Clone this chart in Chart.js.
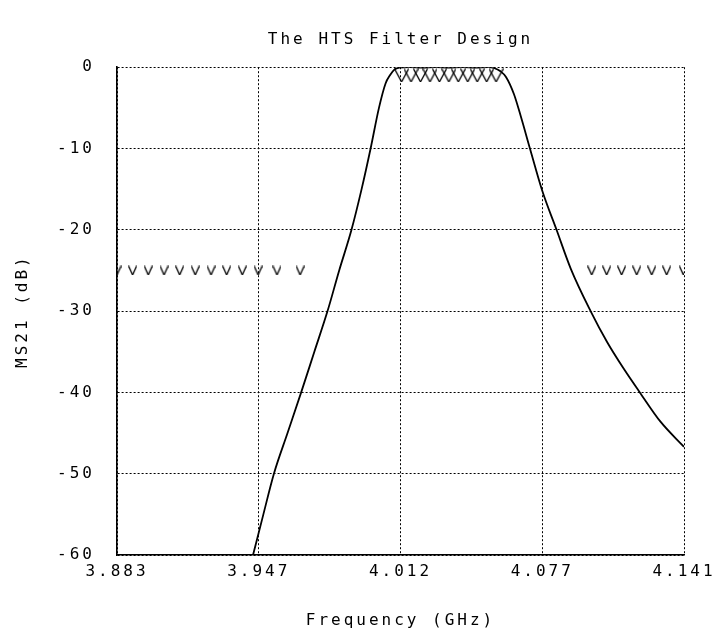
<!DOCTYPE html>
<html>
<head>
<meta charset="utf-8">
<title>The HTS Filter Design</title>
<script src="https://cdn.jsdelivr.net/npm/chart.js@4.4.1/dist/chart.umd.min.js"></script>
<style>
  html, body { margin: 0; padding: 0; background: #fff; }
  #wrap { width: 725px; height: 634px; }
</style>
</head>
<body>
<div id="wrap"><canvas id="filterChart" width="725" height="634"></canvas></div>
<script>
// filter response
const curveFreq = [3.9449, 3.9496, 3.9544, 3.9606, 3.9668, 3.9728, 3.9788, 3.9841, 3.9897, 3.9943,
  3.9984, 4.0022, 4.0052, 4.0072, 4.0092, 4.0115, 4.016, 4.022, 4.028, 4.034, 4.040, 4.046, 4.052,
  4.0545, 4.0575, 4.0600, 4.0636, 4.0668, 4.0709, 4.0765, 4.0830, 4.0895, 4.0985, 4.1060, 4.1136,
  4.1209, 4.1303, 4.141];
const curveDb = [-60, -55, -50, -45, -40, -35, -30, -25, -20, -15,
  -10, -5, -2, -1, -0.3, -0.05, 0, -0.05, 0, -0.05, 0, -0.05, 0,
  -0.1, -0.5, -1.2, -3.3, -6.1, -10, -15.2, -20, -24.8, -30, -33.8, -37.1,
  -40, -43.6, -46.7];

// spec markers (the "V" rows)
const stopLeftFreq = [3.883, 3.8901, 3.8972, 3.9044, 3.9115, 3.9186, 3.9258, 3.9329, 3.9400, 3.9472, 3.9558, 3.9663];
const stopRightFreq = [4.0990, 4.1058, 4.1126, 4.1195, 4.1263, 4.1331, 4.1407];
const stopDb = -25;
const passFreq = [4.0125, 4.0168, 4.0211, 4.0254, 4.0297, 4.0340, 4.0383, 4.0426, 4.0469, 4.0512, 4.0555];
const passDb = -1;

// axes
const xTickValues = [3.883, 3.9475, 4.012, 4.0765, 4.141];
const xTickLabels = ['3.883', '3.947', '4.012', '4.077', '4.141'];
const yMin = -60, yMax = 0, yStep = 10;

function pts(xs, y) {
  return xs.map((x, i) => ({ x: x, y: Array.isArray(y) ? y[i] : y }));
}

// little V glyph used as point style
function makeV(w, h, lw) {
  const c = document.createElement('canvas');
  c.width = w; c.height = h;
  const g = c.getContext('2d');
  g.strokeStyle = '#000';
  g.lineWidth = lw;
  g.beginPath();
  g.moveTo(0.5, 0.5);
  g.lineTo(w / 2, h - 0.5);
  g.lineTo(w - 0.5, 0.5);
  g.stroke();
  return c;
}
const vSmall = makeV(9, 10, 1.3);
const vTop = makeV(15, 14, 1.3);

// plotter-style wide lettering
const letterSpacing = {
  id: 'letterSpacing',
  beforeUpdate(chart) { chart.ctx.letterSpacing = '3px'; },
  beforeDraw(chart) { chart.ctx.letterSpacing = '3px'; }
};

Chart.defaults.font.family = "'DejaVu Sans Mono', 'Liberation Mono', monospace";
Chart.defaults.font.size = 16;
Chart.defaults.color = '#000';

const ctx = document.getElementById('filterChart').getContext('2d');
new Chart(ctx, {
  type: 'scatter',
  data: {
    datasets: [
      {
        data: pts(curveFreq, curveDb),
        showLine: true,
        borderColor: '#000',
        borderWidth: 1.8,
        pointRadius: 0,
        cubicInterpolationMode: 'monotone'
      },
      { data: pts(stopLeftFreq, stopDb), pointStyle: vSmall, pointRadius: 5 },
      { data: pts(stopRightFreq, stopDb), pointStyle: vSmall, pointRadius: 5 },
      { data: pts(passFreq, passDb), pointStyle: vTop, pointRadius: 7 }
    ]
  },
  plugins: [letterSpacing],
  options: {
    responsive: false,
    animation: false,
    layout: { padding: { top: 0, right: 41, bottom: 0, left: 0 } },
    plugins: {
      legend: { display: false },
      tooltip: { enabled: false },
      title: {
        display: true,
        fullSize: false,
        text: 'The HTS Filter Design',
        font: { size: 16, weight: 'normal' },
        color: '#000',
        padding: { top: 30, bottom: 18 }
      }
    },
    scales: {
      x: {
        type: 'linear',
        min: xTickValues[0],
        max: xTickValues[xTickValues.length - 1],
        afterBuildTicks: s => { s.ticks = xTickValues.map(v => ({ value: v })); },
        afterFit: s => { s.height = 79; },
        ticks: {
          padding: 7,
          maxRotation: 0,
          callback: (v, i) => xTickLabels[i]
        },
        grid: { color: '#000', lineWidth: 1, drawTicks: false },
        border: { display: true, color: '#000', width: 1.6, dash: [2, 2] },
        title: {
          display: true,
          text: 'Frequency (GHz)',
          font: { size: 16 },
          padding: { top: 0, bottom: 4 }
        }
      },
      y: {
        min: yMin,
        max: yMax,
        afterFit: s => { s.width = 117; },
        ticks: { stepSize: yStep, padding: 22 },
        grid: { color: '#000', lineWidth: 1, drawTicks: false },
        border: { display: true, color: '#000', width: 1.6, dash: [2, 2] },
        title: {
          display: true,
          text: 'MS21 (dB)',
          font: { size: 16 },
          padding: { top: 13, bottom: 0 }
        }
      }
    }
  }
});
</script>
</body>
</html>
